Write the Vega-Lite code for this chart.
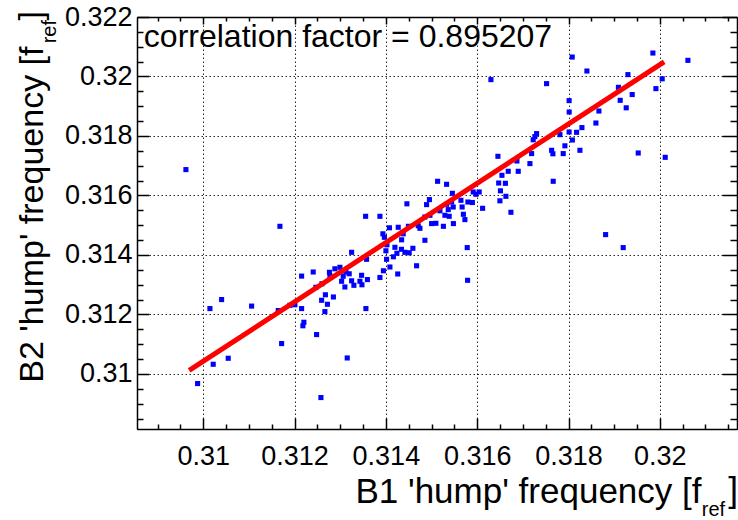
{
  "$schema": "https://vega.github.io/schema/vega-lite/v6.json",
  "width": 600,
  "height": 412,
  "autosize": {"type": "none"},
  "padding": {"left": 137, "top": 17, "right": 1, "bottom": 91},
  "background": "white",
  "config": {
    "view": {"stroke": "black", "strokeWidth": 1},
    "font": "Liberation Sans",
    "axis": {
      "labelFont": "Liberation Sans",
      "titleFont": "Liberation Sans",
      "labelColor": "black",
      "titleColor": "black",
      "titleFontWeight": "normal",
      "domainColor": "black",
      "domainWidth": 1.5,
      "tickColor": "black",
      "tickWidth": 1.5,
      "gridColor": "black",
      "gridDash": [1.5, 2.5],
      "gridWidth": 1,
      "labelOverlap": false,
      "labelFlush": false
    }
  },
  "datasets": {
    "pts": [
      {"b1": 0.309621, "b2": 0.316870}, {"b1": 0.318081, "b2": 0.320654}, {"b1": 0.318403, "b2": 0.320184},
      {"b1": 0.316301, "b2": 0.319895}, {"b1": 0.317520, "b2": 0.319760}, {"b1": 0.319848, "b2": 0.320789},
      {"b1": 0.320615, "b2": 0.320543}, {"b1": 0.319301, "b2": 0.320063}, {"b1": 0.320052, "b2": 0.319922},
      {"b1": 0.319093, "b2": 0.319636}, {"b1": 0.319914, "b2": 0.319592}, {"b1": 0.319395, "b2": 0.319394},
      {"b1": 0.319132, "b2": 0.319199}, {"b1": 0.319264, "b2": 0.318947}, {"b1": 0.318666, "b2": 0.318839},
      {"b1": 0.318013, "b2": 0.319189}, {"b1": 0.318015, "b2": 0.318806}, {"b1": 0.318600, "b2": 0.318436},
      {"b1": 0.318294, "b2": 0.318282}, {"b1": 0.318177, "b2": 0.318124}, {"b1": 0.318013, "b2": 0.318134},
      {"b1": 0.317812, "b2": 0.318046}, {"b1": 0.317301, "b2": 0.318080}, {"b1": 0.317264, "b2": 0.317979},
      {"b1": 0.317227, "b2": 0.317872}, {"b1": 0.318085, "b2": 0.317865}, {"b1": 0.317921, "b2": 0.317670},
      {"b1": 0.318250, "b2": 0.317519}, {"b1": 0.317630, "b2": 0.317519}, {"b1": 0.317658, "b2": 0.317401},
      {"b1": 0.317884, "b2": 0.317408}, {"b1": 0.317192, "b2": 0.317408}, {"b1": 0.317155, "b2": 0.317072},
      {"b1": 0.319527, "b2": 0.317428}, {"b1": 0.320118, "b2": 0.317283}, {"b1": 0.316454, "b2": 0.317317},
      {"b1": 0.316870, "b2": 0.317159}, {"b1": 0.316899, "b2": 0.316813}, {"b1": 0.316680, "b2": 0.316813},
      {"b1": 0.316542, "b2": 0.316678}, {"b1": 0.317665, "b2": 0.316477}, {"b1": 0.316471, "b2": 0.316419},
      {"b1": 0.316618, "b2": 0.316409}, {"b1": 0.316509, "b2": 0.316157}, {"b1": 0.316629, "b2": 0.315972},
      {"b1": 0.316498, "b2": 0.315821}, {"b1": 0.315913, "b2": 0.316117}, {"b1": 0.315972, "b2": 0.316040},
      {"b1": 0.316044, "b2": 0.316117}, {"b1": 0.315133, "b2": 0.316477}, {"b1": 0.315330, "b2": 0.316376},
      {"b1": 0.315457, "b2": 0.316073}, {"b1": 0.315644, "b2": 0.315838}, {"b1": 0.315797, "b2": 0.315781},
      {"b1": 0.315895, "b2": 0.315764}, {"b1": 0.315670, "b2": 0.315613}, {"b1": 0.315440, "b2": 0.315781},
      {"b1": 0.315330, "b2": 0.315704}, {"b1": 0.315475, "b2": 0.315613}, {"b1": 0.315366, "b2": 0.315525},
      {"b1": 0.316119, "b2": 0.315569}, {"b1": 0.315184, "b2": 0.315485}, {"b1": 0.315293, "b2": 0.315334},
      {"b1": 0.315387, "b2": 0.315300}, {"b1": 0.315479, "b2": 0.315055}, {"b1": 0.315260, "b2": 0.314964},
      {"b1": 0.315096, "b2": 0.315065}, {"b1": 0.315002, "b2": 0.315055}, {"b1": 0.314965, "b2": 0.315334},
      {"b1": 0.314855, "b2": 0.315277}, {"b1": 0.315698, "b2": 0.315368}, {"b1": 0.315731, "b2": 0.315189},
      {"b1": 0.316739, "b2": 0.315435}, {"b1": 0.314954, "b2": 0.315862}, {"b1": 0.314892, "b2": 0.315693},
      {"b1": 0.314461, "b2": 0.315720}, {"b1": 0.313557, "b2": 0.315300}, {"b1": 0.313870, "b2": 0.315300},
      {"b1": 0.313935, "b2": 0.314712}, {"b1": 0.313968, "b2": 0.314594}, {"b1": 0.314078, "b2": 0.314914},
      {"b1": 0.314271, "b2": 0.314931}, {"b1": 0.314345, "b2": 0.314510}, {"b1": 0.314380, "b2": 0.314712},
      {"b1": 0.314494, "b2": 0.314964}, {"b1": 0.314709, "b2": 0.314981}, {"b1": 0.314746, "b2": 0.314897},
      {"b1": 0.314855, "b2": 0.314494}, {"b1": 0.314023, "b2": 0.314342}, {"b1": 0.314198, "b2": 0.314258},
      {"b1": 0.314341, "b2": 0.314191}, {"b1": 0.314242, "b2": 0.314057}, {"b1": 0.314001, "b2": 0.314141},
      {"b1": 0.314016, "b2": 0.313855}, {"b1": 0.314165, "b2": 0.313939}, {"b1": 0.314511, "b2": 0.314074},
      {"b1": 0.314592, "b2": 0.314225}, {"b1": 0.314673, "b2": 0.313637}, {"b1": 0.313946, "b2": 0.313469},
      {"b1": 0.314089, "b2": 0.313596}, {"b1": 0.314260, "b2": 0.313361}, {"b1": 0.313870, "b2": 0.313243},
      {"b1": 0.314417, "b2": 0.314090}, {"b1": 0.313250, "b2": 0.314090}, {"b1": 0.313578, "b2": 0.313855},
      {"b1": 0.312994, "b2": 0.313586}, {"b1": 0.312884, "b2": 0.313536}, {"b1": 0.313125, "b2": 0.313428},
      {"b1": 0.312764, "b2": 0.313418}, {"b1": 0.313197, "b2": 0.313368}, {"b1": 0.313066, "b2": 0.313284},
      {"b1": 0.312775, "b2": 0.313301}, {"b1": 0.313469, "b2": 0.313317}, {"b1": 0.313596, "b2": 0.313173},
      {"b1": 0.313432, "b2": 0.313116}, {"b1": 0.313250, "b2": 0.313132}, {"b1": 0.313031, "b2": 0.313116},
      {"b1": 0.313300, "b2": 0.312981}, {"b1": 0.313103, "b2": 0.312924}, {"b1": 0.313476, "b2": 0.312998},
      {"b1": 0.312409, "b2": 0.313428}, {"b1": 0.312155, "b2": 0.313290}, {"b1": 0.312600, "b2": 0.313032},
      {"b1": 0.312468, "b2": 0.312914}, {"b1": 0.312676, "b2": 0.312662}, {"b1": 0.312851, "b2": 0.312588},
      {"b1": 0.312593, "b2": 0.312477}, {"b1": 0.312720, "b2": 0.312343}, {"b1": 0.312665, "b2": 0.312097},
      {"b1": 0.312155, "b2": 0.312198}, {"b1": 0.312008, "b2": 0.312326}, {"b1": 0.311899, "b2": 0.312309},
      {"b1": 0.313563, "b2": 0.312198}, {"b1": 0.312205, "b2": 0.311738}, {"b1": 0.312183, "b2": 0.311620},
      {"b1": 0.312483, "b2": 0.311324}, {"b1": 0.311680, "b2": 0.314964}, {"b1": 0.310403, "b2": 0.312501},
      {"b1": 0.310147, "b2": 0.312198}, {"b1": 0.311060, "b2": 0.312282}, {"b1": 0.311643, "b2": 0.312131},
      {"b1": 0.311717, "b2": 0.311022}, {"b1": 0.310548, "b2": 0.310528}, {"b1": 0.310219, "b2": 0.310326},
      {"b1": 0.309877, "b2": 0.309677}, {"b1": 0.313154, "b2": 0.310538}, {"b1": 0.312578, "b2": 0.309207},
      {"b1": 0.315782, "b2": 0.314248}, {"b1": 0.315790, "b2": 0.313149}, {"b1": 0.318813, "b2": 0.314685},
      {"b1": 0.319198, "b2": 0.314248}
    ],
    "fit": [
      {"b1": 0.309693, "b2": 0.310124},
      {"b1": 0.320095, "b2": 0.320491}
    ]
  },
  "layer": [
    {
      "data": {"name": "pts"},
      "mark": {"type": "square", "size": 26, "color": "#0000ff", "opacity": 1},
      "encoding": {
        "x": {
          "field": "b1", "type": "quantitative",
          "scale": {"domain": [0.30855, 0.32169], "nice": false, "zero": false},
          "axis": {
            "orient": "bottom",
            "values": [0.309, 0.3095, 0.31, 0.3105, 0.311, 0.3115, 0.312, 0.3125, 0.313, 0.3135, 0.314, 0.3145, 0.315, 0.3155, 0.316, 0.3165, 0.317, 0.3175, 0.318, 0.3185, 0.319, 0.3195, 0.32, 0.3205, 0.321, 0.3215],
            "labelExpr": "round(datum.value*10000) % 20 == 0 ? format(datum.value, '~g') : ''",
            "labelFontSize": 27,
            "labelPadding": 25,
            "tickSize": {"condition": {"test": "round(datum.value*10000) % 20 == 0", "value": -11}, "value": -5},
            "grid": true,
            "gridOpacity": {"condition": {"test": "round(datum.value*10000) % 20 == 0", "value": 0.85}, "value": 0},
            "title": "B1 'hump' frequency [f",
            "titleFontSize": 35,
            "titleAnchor": "end",
            "titleAlign": "right",
            "titleBaseline": "alphabetic",
            "titleX": 564,
            "titleY": 73
          }
        },
        "y": {
          "field": "b2", "type": "quantitative",
          "scale": {"domain": [0.30815, 0.322], "nice": false, "zero": false},
          "axis": {
            "orient": "left",
            "values": [0.3085, 0.309, 0.3095, 0.31, 0.3105, 0.311, 0.3115, 0.312, 0.3125, 0.313, 0.3135, 0.314, 0.3145, 0.315, 0.3155, 0.316, 0.3165, 0.317, 0.3175, 0.318, 0.3185, 0.319, 0.3195, 0.32, 0.3205, 0.321, 0.3215, 0.322],
            "labelExpr": "round(datum.value*10000) % 20 == 0 ? format(datum.value, '~g') : ''",
            "labelFontSize": 27,
            "labelPadding": 17,
            "tickSize": {"condition": {"test": "round(datum.value*10000) % 20 == 0", "value": -12}, "value": -6},
            "grid": true,
            "gridOpacity": {"condition": {"test": "round(datum.value*10000) % 20 == 0", "value": 0.85}, "value": 0},
            "title": "B2 'hump' frequency [f",
            "titleFontSize": 34,
            "titleAngle": 270,
            "titleAnchor": "end",
            "titleAlign": "right",
            "titleBaseline": "alphabetic",
            "titleX": -95,
            "titleY": 29
          }
        }
      }
    },
    {
      "data": {"name": "fit"},
      "mark": {"type": "line", "color": "#ff0000", "strokeWidth": 5},
      "encoding": {
        "x": {
          "field": "b1", "type": "quantitative",
          "scale": {"domain": [0.30855, 0.32169], "nice": false, "zero": false},
          "axis": {
            "orient": "top",
            "values": [0.309, 0.3095, 0.31, 0.3105, 0.311, 0.3115, 0.312, 0.3125, 0.313, 0.3135, 0.314, 0.3145, 0.315, 0.3155, 0.316, 0.3165, 0.317, 0.3175, 0.318, 0.3185, 0.319, 0.3195, 0.32, 0.3205, 0.321, 0.3215],
            "labels": false,
            "grid": false,
            "title": null,
            "tickSize": {"condition": {"test": "round(datum.value*10000) % 20 == 0", "value": -7}, "value": -4}
          }
        },
        "y": {
          "field": "b2", "type": "quantitative",
          "scale": {"domain": [0.30815, 0.322], "nice": false, "zero": false},
          "axis": {
            "orient": "right",
            "values": [0.3085, 0.309, 0.3095, 0.31, 0.3105, 0.311, 0.3115, 0.312, 0.3125, 0.313, 0.3135, 0.314, 0.3145, 0.315, 0.3155, 0.316, 0.3165, 0.317, 0.3175, 0.318, 0.3185, 0.319, 0.3195, 0.32, 0.3205, 0.321, 0.3215, 0.322],
            "labels": false,
            "grid": false,
            "title": null,
            "tickSize": {"condition": {"test": "round(datum.value*10000) % 20 == 0", "value": -15}, "value": -7}
          }
        }
      }
    },
    {
      "data": {"values": [{"label": "correlation factor = 0.895207"}]},
      "mark": {"type": "text", "align": "left", "baseline": "alphabetic", "fontSize": 32, "color": "black", "font": "Liberation Sans"},
      "encoding": {
        "x": {"datum": 0.3087, "type": "quantitative", "axis": null},
        "y": {"datum": 0.320982, "type": "quantitative", "axis": null},
        "text": {"field": "label"}
      }
    },
    {
      "data": {"values": [{"label": "ref"}]},
      "mark": {"type": "text", "align": "left", "baseline": "alphabetic", "fontSize": 20, "dy": 87, "color": "black", "font": "Liberation Sans"},
      "encoding": {
        "x": {"datum": 0.32092, "type": "quantitative", "axis": null},
        "y": {"datum": 0.30815, "type": "quantitative", "axis": null},
        "text": {"field": "label"}
      }
    },
    {
      "data": {"values": [{"label": "]"}]},
      "mark": {"type": "text", "align": "left", "baseline": "alphabetic", "fontSize": 35, "dy": 73, "color": "black", "font": "Liberation Sans"},
      "encoding": {
        "x": {"datum": 0.3215, "type": "quantitative", "axis": null},
        "y": {"datum": 0.30815, "type": "quantitative", "axis": null},
        "text": {"field": "label"}
      }
    },
    {
      "data": {"values": [{"label": "ref"}]},
      "mark": {"type": "text", "align": "left", "baseline": "alphabetic", "fontSize": 20, "angle": 270, "dy": -81, "color": "black", "font": "Liberation Sans"},
      "encoding": {
        "x": {"datum": 0.30855, "type": "quantitative", "axis": null},
        "y": {"datum": 0.321116, "type": "quantitative", "axis": null},
        "text": {"field": "label"}
      }
    },
    {
      "data": {"values": [{"label": "]"}]},
      "mark": {"type": "text", "align": "left", "baseline": "alphabetic", "fontSize": 34, "angle": 270, "dy": -95, "color": "black", "font": "Liberation Sans"},
      "encoding": {
        "x": {"datum": 0.30855, "type": "quantitative", "axis": null},
        "y": {"datum": 0.321886, "type": "quantitative", "axis": null},
        "text": {"field": "label"}
      }
    }
  ],
  "resolve": {"axis": {"x": "independent", "y": "independent"}}
}
